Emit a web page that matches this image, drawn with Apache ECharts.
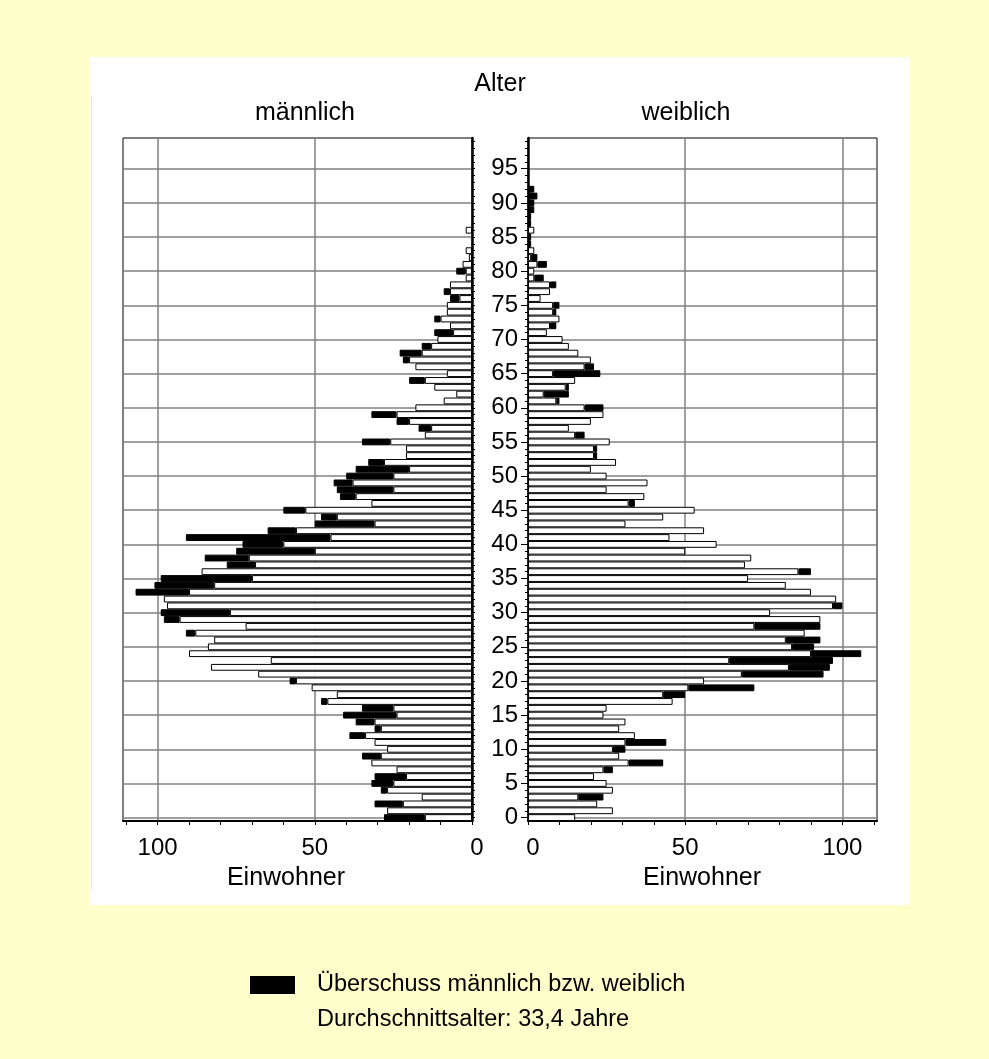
<!DOCTYPE html>
<html>
<head>
<meta charset="utf-8">
<script src="https://cdn.jsdelivr.net/npm/echarts/dist/echarts.min.js"></script>
<style>
html,body{margin:0;padding:0;background:#FFFFCC;}
#chart{width:989px;height:1059px;}
</style>
</head>
<body>
<div id="chart"></div>
<script>
// Age categories 0..99 (bottom to top)
const ages = Array.from({length: 100}, (_, i) => String(i));

// Population by single year of age
const male = [
  28, 27, 31, 16, 29, 32, 31, 24, 32, 35,
  27, 31, 39, 31, 37, 41, 35, 48, 43, 51,
  58, 68, 83, 64, 90, 84, 82, 91, 72, 98,
  99, 97, 98, 107, 101, 99, 86, 78, 85, 75,
  73, 91, 65, 50, 48, 60, 32, 42, 43, 44,
  40, 37, 33, 21, 21, 35, 15, 17, 24, 32,
  18, 9, 5, 12, 20, 8, 18, 22, 23, 16,
  11, 12, 7, 12, 8, 8, 7, 9, 7, 2,
  5, 3, 1, 2, 0, 0, 2, 0, 0, 0,
  0, 0, 0, 0, 0, 0, 0, 0, 0, 0
];
const female = [
  15, 27, 22, 24, 27, 25, 21, 27, 43, 29,
  31, 44, 34, 29, 31, 24, 25, 46, 50, 72,
  56, 94, 96, 97, 106, 91, 93, 88, 93, 93,
  77, 100, 98, 90, 82, 70, 90, 69, 71, 50,
  60, 45, 56, 31, 43, 53, 34, 37, 25, 38,
  25, 20, 28, 22, 22, 26, 18, 13, 20, 24,
  24, 10, 13, 13, 15, 23, 21, 20, 16, 13,
  11, 6, 9, 10, 9, 10, 4, 7, 9, 5,
  2, 6, 3, 2, 1, 1, 2, 1, 1, 2,
  2, 3, 2, 0, 0, 0, 0, 0, 0, 0
];

const legendName = 'Überschuss männlich bzw. weiblich';
const noteText = 'Durchschnittsalter: 33,4 Jahre';
const xMax = 111;

const common = male.map((m, i) => { const v = Math.min(m, female[i]); return v > 0 ? v : null; });
const surplusM = male.map((m, i) => m > female[i] ? m - female[i] : null);
const surplusF = female.map((f, i) => f > male[i] ? f - male[i] : null);

const FONT = '"Liberation Sans", Arial, sans-serif';
const GRID_COLOR = '#808080';
const LABEL_SIZE = 24;
const TITLE_SIZE = 25;

function xAxisDef(gridIndex, inverse) {
  return {
    gridIndex, type: 'value', inverse, min: 0, max: xMax, interval: 10,
    position: 'bottom',
    axisLine: {show: true, onZero: false, lineStyle: {color: '#000', width: 2}},
    axisTick: {show: true, length: 4, lineStyle: {color: '#000', width: 1}},
    axisLabel: {
      formatter: v => (v === 0 ? '{z|0}' : (v % 50 === 0 ? String(v) : '')),
      rich: {z: {fontFamily: FONT, fontSize: LABEL_SIZE, color: '#000', padding: [0, 0, 0, 10]}},
      showMaxLabel: false, fontFamily: FONT, fontSize: LABEL_SIZE, color: '#000', margin: 15
    },
    splitLine: {show: true, lineStyle: {color: [GRID_COLOR, 'transparent', 'transparent', 'transparent', 'transparent'], width: 1.5}}
  };
}

function yAxisMain(gridIndex, position, showLabels) {
  return {
    gridIndex, type: 'category', data: ages, position,
    axisLine: {show: true, lineStyle: {color: '#000', width: 2.5}},
    axisTick: {show: true, alignWithLabel: true, interval: 0, length: 3, lineStyle: {color: '#000', width: 1}},
    axisLabel: {
      show: showLabels, interval: (i) => i % 5 === 0,
      fontFamily: FONT, fontSize: LABEL_SIZE, color: '#000', margin: 10
    },
    splitLine: {show: true, alignWithLabel: true, interval: (i) => i % 5 === 0, lineStyle: {color: GRID_COLOR, width: 1.5}}
  };
}

function yAxisMajor(gridIndex, position) {
  return {
    gridIndex, type: 'category', data: ages, position,
    axisLine: {show: false},
    axisTick: {show: true, alignWithLabel: true, interval: (i) => i % 5 === 0, length: 7, lineStyle: {color: '#000', width: 1}},
    axisLabel: {show: false},
    splitLine: {show: false}
  };
}

const barBase = {type: 'bar', barCategoryGap: '0%', animation: false, silent: true};

const option = {
  backgroundColor: '#FFFFCC',
  animation: false,
  textStyle: {fontFamily: FONT},
  grid: [
    {left: 123, top: 138, width: 349, height: 683, show: true, backgroundColor: '#fff', borderColor: '#000', borderWidth: 1, containLabel: false},
    {left: 528, top: 138, width: 349, height: 683, show: true, backgroundColor: '#fff', borderColor: '#000', borderWidth: 1, containLabel: false}
  ],
  xAxis: [xAxisDef(0, true), xAxisDef(1, false)],
  yAxis: [
    yAxisMain(0, 'right', false),
    yAxisMain(1, 'left', true),
    yAxisMajor(1, 'left')
  ],
  legend: {
    show: true, left: 250, top: 973, padding: 0, itemWidth: 43, itemHeight: 16, selectedMode: false,
    icon: 'rect', data: [legendName],
    textStyle: {fontFamily: FONT, fontSize: 23.5, color: '#000', padding: [0, 0, 0, 18]}
  },
  series: [
    Object.assign({}, barBase, {name: 'männlich', xAxisIndex: 0, yAxisIndex: 0, stack: 'm', data: common,
      itemStyle: {color: '#fff', borderColor: '#000', borderWidth: 1}}),
    Object.assign({}, barBase, {name: legendName, xAxisIndex: 0, yAxisIndex: 0, stack: 'm', data: surplusM,
      itemStyle: {color: '#000', borderColor: '#000', borderWidth: 1}}),
    Object.assign({}, barBase, {name: 'weiblich', xAxisIndex: 1, yAxisIndex: 1, stack: 'f', data: common,
      itemStyle: {color: '#fff', borderColor: '#000', borderWidth: 1}}),
    Object.assign({}, barBase, {name: legendName, xAxisIndex: 1, yAxisIndex: 1, stack: 'f', data: surplusF,
      itemStyle: {color: '#000', borderColor: '#000', borderWidth: 1}})
  ],
  graphic: {elements: [
    {type: 'rect', z: -10, shape: {x: 90, y: 57, width: 820, height: 848}, style: {fill: '#fff'}},
    {type: 'line', z: -9, shape: {x1: 91.5, y1: 97, x2: 91.5, y2: 890}, style: {stroke: '#e6e6c8', lineWidth: 1}},
    {type: 'text', x: 500, y: 84, style: {text: 'Alter', fontFamily: FONT, fontSize: TITLE_SIZE, fill: '#000', align: 'center', verticalAlign: 'middle'}},
    {type: 'text', x: 305, y: 113, style: {text: 'männlich', fontFamily: FONT, fontSize: TITLE_SIZE, fill: '#000', align: 'center', verticalAlign: 'middle'}},
    {type: 'text', x: 686, y: 113, style: {text: 'weiblich', fontFamily: FONT, fontSize: TITLE_SIZE, fill: '#000', align: 'center', verticalAlign: 'middle'}},
    {type: 'text', x: 286, y: 878, style: {text: 'Einwohner', fontFamily: FONT, fontSize: TITLE_SIZE, fill: '#000', align: 'center', verticalAlign: 'middle'}},
    {type: 'text', x: 702, y: 878, style: {text: 'Einwohner', fontFamily: FONT, fontSize: TITLE_SIZE, fill: '#000', align: 'center', verticalAlign: 'middle'}},
    {type: 'text', x: 317, y: 1020, style: {text: noteText, fontFamily: FONT, fontSize: 23.5, fill: '#000', align: 'left', verticalAlign: 'middle'}}
  ]}
};

const chart = echarts.init(document.getElementById('chart'), null, {renderer: 'canvas'});
chart.setOption(option);
</script>
</body>
</html>
